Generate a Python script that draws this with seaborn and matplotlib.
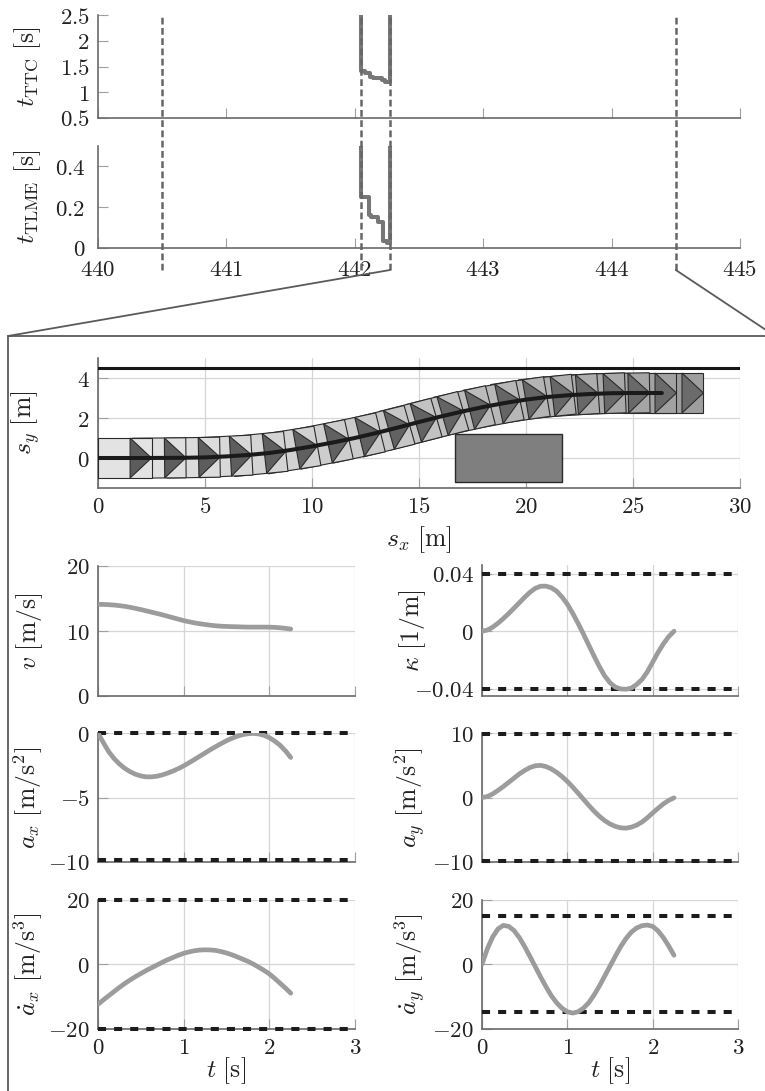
import numpy as np
import pandas as pd
import matplotlib
matplotlib.use("Agg")
import matplotlib.pyplot as plt
import seaborn as sns
from matplotlib.patches import Polygon, Rectangle
from matplotlib.lines import Line2D
from matplotlib.ticker import FuncFormatter

# --- criticality measures around the event (time axis in s)
ttc_t = [442.046, 442.046, 442.08, 442.12, 442.14, 442.21, 442.235, 442.274]
ttc_val = [2.6, 1.41, 1.37, 1.30, 1.27, 1.24, 1.19, 2.6]
tlme_t = [442.046, 442.046, 442.113, 442.13, 442.183, 442.222, 442.25, 442.274]
tlme_val = [0.55, 0.25, 0.16, 0.15, 0.125, 0.032, 0.022, 0.55]
event_t = [440.5, 442.046, 442.274, 444.5]
zoom_t = [442.274, 444.5]

# --- planned path and vehicle snapshots (m, deg)
path_x = [0, 2, 4, 5, 6, 7, 8, 9, 10, 11, 12, 13, 14, 15, 16, 17, 18, 19, 20, 21, 22, 23, 24, 25, 26.35]
path_y = [0, 0, 0.01, 0.03, 0.08, 0.15, 0.25, 0.4, 0.58, 0.78, 1.0, 1.25, 1.52, 1.8, 2.07, 2.32,
          2.55, 2.75, 2.92, 3.05, 3.14, 3.2, 3.24, 3.25, 3.25]
snap_x = [1.25, 2.86, 4.45, 5.94, 7.53, 9.02, 10.5, 11.98, 13.35, 14.61, 15.86, 17.12, 18.49,
          19.74, 20.99, 22.13, 23.39, 24.53, 25.78, 27.04]
snap_y = [0, 0, 0.02, 0.08, 0.2, 0.4, 0.68, 1.0, 1.34, 1.69, 2.03, 2.35, 2.65, 2.88, 3.05,
          3.14, 3.21, 3.24, 3.25, 3.25]
snap_yaw = [0, 0.5, 1, 3, 6, 9.5, 11.8, 13, 14.8, 15.3, 15.2, 13.5, 11.3, 9, 6.5, 4, 2.3, 1, 0, 0]
lane_y = 4.5
obst_x = [16.7, 21.7]
obst_y = [-1.2, 1.2]

# --- trajectory signals over time
t = [0, 0.0625, 0.125, 0.1875, 0.25, 0.3125, 0.375, 0.4375, 0.5, 0.5625, 0.625, 0.6875,
     0.75, 0.8125, 0.875, 0.9375, 1.0, 1.0625, 1.125, 1.1875, 1.25, 1.3125, 1.375, 1.4375,
     1.5, 1.5625, 1.625, 1.6875, 1.75, 1.8125, 1.875, 1.9375, 2.0, 2.0625, 2.125, 2.1875, 2.25]
v = [14.1, 14.09, 14.05, 13.99, 13.9, 13.79, 13.65, 13.48, 13.3, 13.1, 12.9, 12.7, 12.5,
     12.27, 12.05, 11.82, 11.6, 11.42, 11.25, 11.12, 11.0, 10.89, 10.8, 10.74, 10.7, 10.67,
     10.65, 10.62, 10.6, 10.6, 10.6, 10.6, 10.59, 10.56, 10.5, 10.41, 10.3]
kappa = [0, 0.0008, 0.0028, 0.0056, 0.0088, 0.0123, 0.016, 0.0198, 0.0236, 0.0271, 0.0298,
         0.0313, 0.0313, 0.0302, 0.0278, 0.0238, 0.0188, 0.0125, 0.0056, -0.0018, -0.0095,
         -0.0172, -0.0245, -0.031, -0.0358, -0.0388, -0.0401, -0.0403, -0.0395, -0.037,
         -0.0335, -0.0282, -0.0215, -0.0148, -0.0088, -0.0038, 0.0]
a_x = [0, -0.75, -1.45, -1.98, -2.4, -2.74, -3.0, -3.2, -3.33, -3.4, -3.4, -3.35, -3.25,
       -3.11, -2.95, -2.76, -2.55, -2.31, -2.06, -1.8, -1.55, -1.29, -1.05, -0.82, -0.6,
       -0.41, -0.25, -0.13, -0.06, -0.03, -0.07, -0.18, -0.36, -0.62, -0.95, -1.38, -1.9]
a_y = [0, 0.15, 0.55, 1.1, 1.7, 2.35, 3.0, 3.65, 4.2, 4.65, 4.92, 4.98, 4.8, 4.42, 3.9,
       3.25, 2.5, 1.62, 0.7, -0.25, -1.2, -2.1, -2.9, -3.58, -4.1, -4.48, -4.7, -4.75,
       -4.6, -4.28, -3.8, -3.15, -2.4, -1.68, -1.0, -0.45, -0.05]
j_x = [-12.5, -11.1, -9.8, -8.5, -7.2, -6.0, -4.9, -3.85, -2.9, -1.95, -1.1, -0.25, 0.6,
       1.4, 2.1, 2.8, 3.4, 3.85, 4.2, 4.42, 4.5, 4.45, 4.3, 3.95, 3.5, 2.95, 2.3, 1.6, 0.9,
       0.05, -0.9, -1.9, -3.0, -4.4, -5.9, -7.4, -9.0]
j_y = [0, 4.8, 8.5, 11.0, 12.1, 11.8, 10.5, 8.3, 5.5, 2.4, -0.8, -4.0, -7.0, -9.8, -12.0,
       -13.7, -14.8, -15.2, -14.8, -13.7, -12.0, -9.6, -6.8, -3.7, -0.6, 2.5, 5.5, 8.0,
       10.0, 11.3, 12.0, 12.2, 11.8, 10.4, 8.3, 5.7, 2.8]
kappa_lim = [-0.04, 0.04]
a_x_lim = [-9.81, 0]
a_y_lim = [-9.81, 9.81]
j_x_lim = [-20, 20]
j_y_lim = [-15, 15]

sns.set_theme(style="white")
plt.rcParams["mathtext.fontset"] = "cm"
plt.rcParams["font.family"] = ["DejaVu Serif"]

W, H = 765, 1091
fig = plt.figure(figsize=(W / 100, H / 100), dpi=100)


def box(x0, y0, x1, y1):
    return [x0 / W, 1 - y1 / H, (x1 - x0) / W, (y1 - y0) / H]


fmt = FuncFormatter(lambda val, pos: f"${val:g}$")
SIGNAL = "#9c9c9c"
LIMIT = "#1c1c1c"


def style(ax, grid=True):
    for s in ["top", "right"]:
        ax.spines[s].set_visible(False)
    for s in ["left", "bottom"]:
        ax.spines[s].set_color("#6a6a6a")
        ax.spines[s].set_linewidth(1.2)
    ax.tick_params(direction="in", length=7, width=0.8, color="#a0a0a0",
                   bottom=True, left=True, labelsize=16.5, pad=6, labelcolor="#222222")
    if grid:
        ax.grid(True, color="#d6d6d6", lw=0.9)
    else:
        ax.grid(False)
    ax.set_axisbelow(True)
    ax.xaxis.set_major_formatter(fmt)
    ax.yaxis.set_major_formatter(fmt)


LBL = dict(fontsize=18.5, color="#222222")

# ---------------- top: TTC and TLME
ax_ttc = fig.add_axes(box(98, 15, 740, 118))
ax_tl = fig.add_axes(box(98, 145.5, 740, 248))
for ax in (ax_ttc, ax_tl):
    ax.set_xlim(440, 445)
    ax.set_xticks(range(440, 446))

sns.lineplot(x=ttc_t, y=ttc_val, ax=ax_ttc, estimator=None, sort=False,
             drawstyle="steps-post", color="#777777", lw=2.9)
ax_ttc.set_ylim(0.5, 2.5)
ax_ttc.set_yticks([0.5, 1, 1.5, 2, 2.5])
ax_ttc.set_xlabel("")
ax_ttc.set_ylabel(r"$t_{\mathrm{TTC}}\ [\mathrm{s}]$", **LBL)
ax_ttc.yaxis.set_label_coords(-0.086, 0.5)

sns.lineplot(x=tlme_t, y=tlme_val, ax=ax_tl, estimator=None, sort=False,
             drawstyle="steps-post", color="#777777", lw=2.9)
ax_tl.set_ylim(0, 0.5)
ax_tl.set_yticks([0, 0.2, 0.4])
ax_tl.set_xlabel("")
ax_tl.set_ylabel(r"$t_{\mathrm{TLME}}\ [\mathrm{s}]$", **LBL)
ax_tl.yaxis.set_label_coords(-0.086, 0.5)
for ax in (ax_ttc, ax_tl):
    style(ax, grid=False)
ax_ttc.tick_params(labelbottom=False)
ax_tl.tick_params(axis="x", pad=8)
ax_tl.tick_params(axis="y", pad=9)

for et in event_t:
    ax_tl.axvline(et, ymin=-0.215, ymax=2.273, clip_on=False, color="#666666",
                  lw=1.8, ls=(0, (2.7, 1.4)), zorder=5)

# zoom connectors and frame
to_fig = fig.transFigure.inverted()
xa = ax_tl.transData.transform((zoom_t[0], 0))[0]
xb = ax_tl.transData.transform((zoom_t[1], 0))[0]
y_start = H - 270
corner_l = (8, H - 336)
corner_r = (775, H - 336)
for p0, p1 in [((xa, y_start), corner_l), ((xb, y_start), corner_r),
               (corner_l, corner_r), (corner_l, (8, -5))]:
    f0 = to_fig.transform(p0)
    f1 = to_fig.transform(p1)
    fig.add_artist(Line2D([f0[0], f1[0]], [f0[1], f1[1]], transform=fig.transFigure,
                          color="#5a5a5a", lw=1.3))

# ---------------- middle: path in the plane
ax_xy = fig.add_axes(box(98, 358, 740, 488))
style(ax_xy)
ax_xy.set_xlim(0, 30)
ax_xy.set_ylim(-1.5, 5)
ax_xy.set_xticks(range(0, 31, 5))
ax_xy.set_yticks([0, 2, 4])
ax_xy.axhline(lane_y, color="#161616", lw=2.2, zorder=3)

n = len(snap_x)
body = np.array([[-1.25, -1.0], [1.25, -1.0], [1.25, 1.0], [-1.25, 1.0]])
arrow = np.array([[0.25, -1.0], [1.25, 0.0], [0.25, 1.0]])
for i in reversed(range(n)):
    th = np.deg2rad(snap_yaw[i])
    rot = np.array([[np.cos(th), -np.sin(th)], [np.sin(th), np.cos(th)]])
    c = np.array([snap_x[i], snap_y[i]])
    frac = i / (n - 1)
    g_body = 0.89 - 0.27 * frac
    g_arr = 0.36 + 0.06 * frac
    z = 4 + (n - i) * 0.01
    ax_xy.add_patch(Polygon(body @ rot.T + c, closed=True, fc=(g_body,) * 3,
                            ec="#2a2a2a", lw=0.8, zorder=z))
    ax_xy.add_patch(Polygon(arrow @ rot.T + c, closed=True, fc=(g_arr,) * 3,
                            ec="#2a2a2a", lw=0.8, zorder=z + 0.001))

ax_xy.add_patch(Rectangle((obst_x[0], obst_y[0]), obst_x[1] - obst_x[0], obst_y[1] - obst_y[0],
                          fc="#7f7f7f", ec="#2a2a2a", lw=1.0, zorder=4))
sns.lineplot(x=path_x, y=path_y, ax=ax_xy, estimator=None, sort=False,
             color="#1a1a1a", lw=2.9, zorder=6)
ax_xy.set_xlabel(r"$s_x\ [\mathrm{m}]$", **LBL)
ax_xy.xaxis.set_label_coords(0.5, -0.28)
ax_xy.set_ylabel(r"$s_y\ [\mathrm{m}]$", **LBL)
ax_xy.yaxis.set_label_coords(-0.087, 0.5)

# ---------------- bottom: signals over time
panels = [
    (box(98, 566, 355, 696), v, None, (0, 20), [0, 10, 20], r"$v\ [\mathrm{m/s}]$"),
    (box(482, 565, 738, 696), kappa, kappa_lim, (-0.045, 0.046), [-0.04, 0, 0.04],
     r"$\kappa\ [1/\mathrm{m}]$"),
    (box(98, 733, 355, 862), a_x, a_x_lim, (-10, 0), [-10, -5, 0],
     r"$a_x\ [\mathrm{m/s}^2]$"),
    (box(482, 733, 738, 862), a_y, a_y_lim, (-10, 10), [-10, 0, 10],
     r"$a_y\ [\mathrm{m/s}^2]$"),
    (box(98, 900, 355, 1028.5), j_x, j_x_lim, (-20, 20), [-20, 0, 20],
     r"$\dot{a}_x\ [\mathrm{m/s}^3]$"),
    (box(482, 900, 738, 1028.5), j_y, j_y_lim, (-20, 20), [-20, 0, 20],
     r"$\dot{a}_y\ [\mathrm{m/s}^3]$"),
]
for k, (rect, series, lims, ylim, yt, lab) in enumerate(panels):
    ax = fig.add_axes(rect)
    style(ax)
    ax.set_xlim(0, 3)
    ax.set_xticks([0, 1, 2, 3])
    ax.set_ylim(*ylim)
    ax.set_yticks(yt)
    if lims is not None:
        for lv in lims:
            ax.axhline(lv, color=LIMIT, lw=2.9, ls=(0, (2, 2)), clip_on=False, zorder=3)
    sns.lineplot(x=t, y=series, ax=ax, estimator=None, color=SIGNAL, lw=3.4, zorder=4)
    ax.set_ylabel(lab, **LBL)
    ax.yaxis.set_label_coords(-0.206 if k % 2 == 0 else -0.211, 0.5)
    if k < 4:
        ax.tick_params(labelbottom=False)
        ax.set_xlabel("")
    else:
        ax.set_xlabel(r"$t\ [\mathrm{s}]$", **LBL)
        ax.xaxis.set_label_coords(0.5, -0.21)

fig.savefig("out.png", dpi=100)
